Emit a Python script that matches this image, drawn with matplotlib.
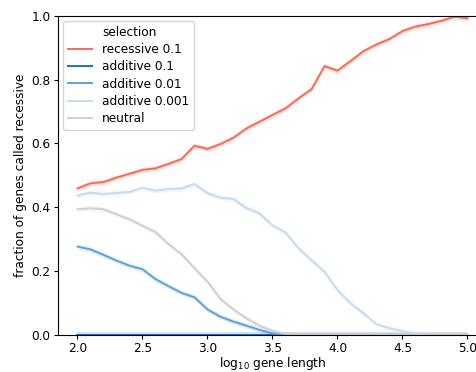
import matplotlib
matplotlib.use("Agg")
import matplotlib.pyplot as plt
import numpy as np

log_length = np.round(np.arange(2.0, 5.01, 0.1), 1)

recessive_01 = [0.459, 0.475, 0.479, 0.493, 0.505, 0.517, 0.522, 0.536, 0.551, 0.593,
                0.583, 0.598, 0.618, 0.647, 0.668, 0.689, 0.710, 0.741, 0.770, 0.842,
                0.828, 0.858, 0.889, 0.910, 0.927, 0.952, 0.966, 0.974, 0.984, 0.997,
                0.992]
additive_01 = [0.0] * 31
additive_001 = [0.277, 0.268, 0.251, 0.233, 0.217, 0.206, 0.175, 0.153, 0.132, 0.118,
                0.080, 0.057, 0.042, 0.029, 0.016, 0.005, 0.001, 0.0, 0.0, 0.0,
                0.0, 0.0, 0.0, 0.0, 0.0, 0.0, 0.0, 0.0, 0.0, 0.0, 0.0]
additive_0001 = [0.437, 0.446, 0.441, 0.445, 0.448, 0.461, 0.452, 0.457, 0.459, 0.473,
                 0.444, 0.430, 0.426, 0.397, 0.381, 0.343, 0.321, 0.272, 0.234, 0.198,
                 0.141, 0.099, 0.068, 0.034, 0.021, 0.012, 0.005, 0.001, 0.0, 0.0, 0.0]
neutral = [0.394, 0.397, 0.394, 0.378, 0.362, 0.342, 0.322, 0.285, 0.253, 0.209,
           0.167, 0.113, 0.080, 0.052, 0.029, 0.013, 0.003, 0.0, 0.0, 0.0,
           0.0, 0.0, 0.0, 0.0, 0.0, 0.0, 0.0, 0.0, 0.0, 0.0, 0.0]

labels = ["recessive 0.1", "additive 0.1", "additive 0.01", "additive 0.001", "neutral"]
series = [recessive_01, additive_01, additive_001, additive_0001, neutral]
colors = ["#f96b57", "#2171b5", "#5fa3d6", "#c6dbef", "#d0d0d0"]
band = 0.008  # half-width of the shaded confidence band

plt.rcParams["font.size"] = 8.7
plt.rcParams["xtick.major.size"] = 3.0
plt.rcParams["ytick.major.size"] = 3.0
plt.rcParams["xtick.major.pad"] = 2.0
plt.rcParams["ytick.major.pad"] = 2.5

fig = plt.figure(figsize=(4.77, 3.72), dpi=100)
ax = fig.add_axes([58 / 477, 37 / 372, 429 / 477, 319.3 / 372])

for lab, ys, c in zip(labels, series, colors):
    ys = np.array(ys)
    ax.fill_between(log_length, np.clip(ys - band, 0, 1), np.clip(ys + band, 0, 1),
                    color=c, alpha=0.2, linewidth=0)
    ax.plot(log_length, ys, color=c, lw=1.4, label=lab)

ax.set_xlim(1.85, 5.15)
ax.set_ylim(0, 1)
ax.set_xticks([2.0, 2.5, 3.0, 3.5, 4.0, 4.5, 5.0])
ax.set_xlabel("log$_{10}$ gene length", labelpad=0)
ax.set_ylabel("fraction of genes called recessive", labelpad=3)

# seaborn-style legend: hue name as a first entry with no handle
handles, labs = ax.get_legend_handles_labels()
title_handle = plt.Line2D([], [], color="none")
ax.legend([title_handle] + handles, ["selection"] + labs, loc="upper left",
          labelspacing=0.35, borderaxespad=0.45)

fig.savefig("out.png", dpi=100)
